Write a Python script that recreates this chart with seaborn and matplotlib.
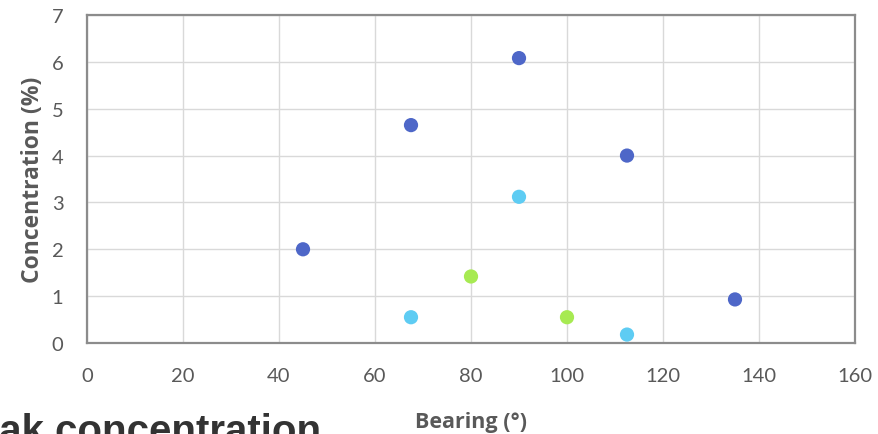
import matplotlib
matplotlib.use("Agg")
import matplotlib.pyplot as plt
import seaborn as sns
import pandas as pd

# Peak concentration readings by bearing, grouped into three series
series_a_bearing = [45, 67.5, 90, 112.5, 135]
series_a_conc = [2.0, 4.65, 6.08, 4.0, 0.93]

series_b_bearing = [67.5, 90, 112.5]
series_b_conc = [0.55, 3.12, 0.18]

series_c_bearing = [80, 100]
series_c_conc = [1.42, 0.55]

series_names = ["A", "B", "C"]
series_colors = ["#4E67C8", "#5ECCF3", "#A7EA52"]

x_ticks = [0, 20, 40, 60, 80, 100, 120, 140, 160]
y_ticks = [0, 1, 2, 3, 4, 5, 6, 7]

df = pd.concat([
    pd.DataFrame({"bearing": series_a_bearing, "conc": series_a_conc, "series": series_names[0]}),
    pd.DataFrame({"bearing": series_b_bearing, "conc": series_b_conc, "series": series_names[1]}),
    pd.DataFrame({"bearing": series_c_bearing, "conc": series_c_conc, "series": series_names[2]}),
])

sns.set_theme(style="white")
plt.rcParams["font.family"] = ["Lato", "DejaVu Sans"]

fig = plt.figure(figsize=(8.79, 4.35), dpi=100)
ax = fig.add_axes([87 / 879, 1 - 344 / 435, (855 - 87) / 879, (344 - 16) / 435])

sns.scatterplot(data=df, x="bearing", y="conc", hue="series",
                palette=dict(zip(series_names, series_colors)),
                s=105, edgecolor="none", legend=False, ax=ax, zorder=3)

ax.set_xlim(0, 160)
ax.set_ylim(0, 7)
ax.set_xticks(x_ticks)
ax.set_yticks(y_ticks)
ax.grid(True, color="#D9D9D9", linewidth=1.0)
ax.set_axisbelow(True)
for sp in ax.spines.values():
    sp.set_color("#8C8C8C")
    sp.set_linewidth(1.6)

tick_color = "#595959"
ax.tick_params(axis="x", length=0, pad=17, labelsize=14.5, labelcolor=tick_color)
ax.tick_params(axis="y", length=0, pad=17, labelsize=14.5, labelcolor=tick_color)

label_font = ["Open Sans", "DejaVu Sans"]
ax.set_xlabel("Bearing (°)", fontsize=15.5, fontweight="bold", family=label_font,
              color=tick_color, labelpad=20)
ax.set_ylabel("Concentration (%)", fontsize=16.5, fontweight="bold", family=label_font,
              color=tick_color, labelpad=5)

fig.text(-50 / 879, -8 / 435, "Peak concentration", fontsize=29, fontweight="bold",
         family=["Liberation Sans", "DejaVu Sans"], color="#333333", ha="left", va="baseline")

fig.savefig("out.png", dpi=100)
